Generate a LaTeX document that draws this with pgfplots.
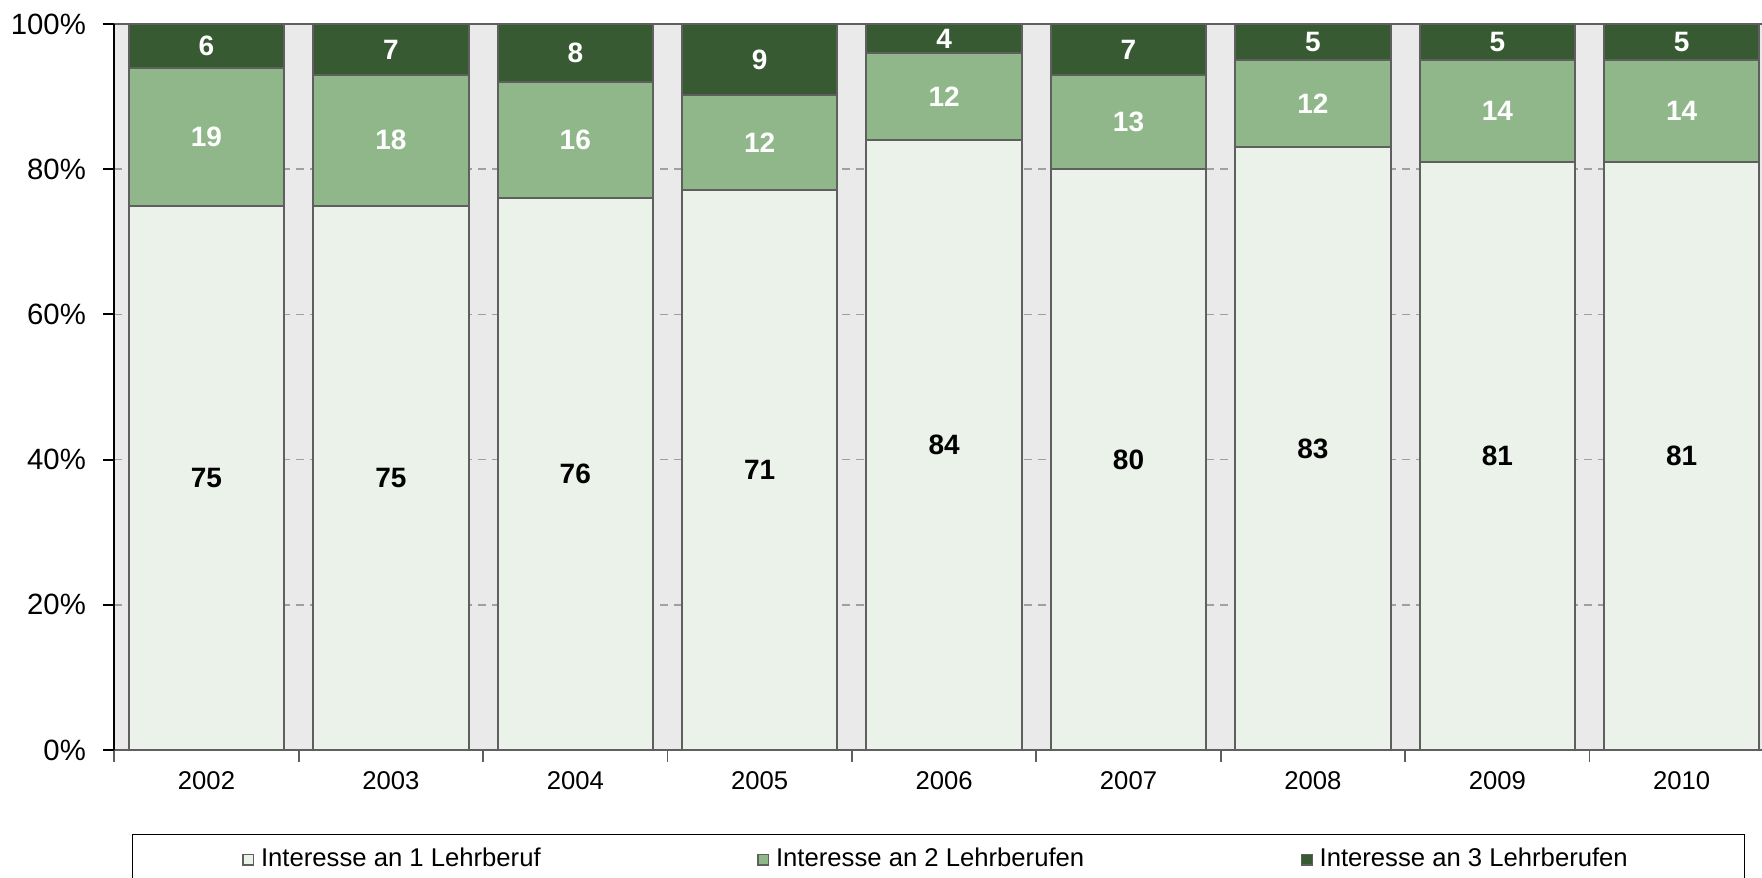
\documentclass[border=0pt]{standalone}
\usepackage{pgfplots}
\pgfplotsset{compat=1.18}
\usepackage{pgfplotstable}
\usepackage{fontspec}
\setmainfont{Liberation Sans}

\definecolor{cone}{HTML}{EAF2EA}
\definecolor{ctwo}{HTML}{8FB78A}
\definecolor{cthree}{HTML}{375A33}
\definecolor{cedge}{HTML}{5F5F5F}
\definecolor{cbg}{HTML}{EAEAEA}
\definecolor{cgrid}{HTML}{A0A0A0}

% h = normalised bar height (per cent of the year's total), l = printed value
\pgfplotstableread{
x h1 l1 h2 l2 h3 l3
0 75 75 19 19 6 6
1 75 75 18 18 7 7
2 76 76 16 16 8 8
3 77.17 71 13.04 12 9.79 9
4 84 84 12 12 4 4
5 80 80 13 13 7 7
6 83 83 12 12 5 5
7 81 81 14 14 5 5
8 81 81 14 14 5 5
}\datatable

\begin{document}
\begin{tikzpicture}
\begin{axis}[
  scale only axis,
  width=497.9pt, height=217.8pt,
  ybar stacked,
  bar width=0.843,
  xmin=-0.5, xmax=8.5,
  ymin=0, ymax=100,
  axis background/.style={fill=cbg},
  separate axis lines,
  x axis line style={draw=cedge, line width=0.6pt},
  y axis line style={draw=black, line width=0.6pt},
  tick align=outside,
  major tick length=3.5pt,
  xtick pos=left, ytick pos=left,
  xtick={-0.5,0.5,...,8.5},
  xticklabels={},
  xtick style={draw=cedge, line width=0.5pt},
  extra x ticks={0,1,...,8},
  extra x tick labels={2002,2003,2004,2005,2006,2007,2008,2009,2010},
  extra x tick style={major tick length=0pt, grid=none,
    tick label style={font=\fontsize{7.7}{9}\selectfont, yshift=-2.8pt}},
  ytick={0,20,...,100},
  yticklabels={0\%,20\%,40\%,60\%,80\%,100\%},
  yticklabel style={font=\fontsize{8.8}{10}\selectfont, xshift=-1.5pt},
  ytick style={draw=black, line width=0.6pt},
  ymajorgrids,
  grid style={cgrid, dash pattern=on 2.4pt off 1.8pt, line width=0.5pt},
  legend style={at={(0.4966,-0.1157)}, anchor=north, legend columns=3,
    draw=black, line width=0.4pt, fill=white,
    font=\fontsize{7.7}{9}\selectfont, inner xsep=33pt, inner ysep=2pt,
    /tikz/every even column/.append style={column sep=63pt}},
  legend image code/.code={\draw[#1, draw=cedge, line width=0.4pt] (0pt,-1.6pt) rectangle (3.2pt,1.6pt);},
  nodes near coords={\pgfplotspointmeta},
  point meta=explicit symbolic,
  every node near coord/.append style={anchor=center,
    font=\bfseries\fontsize{8.4}{10}\selectfont},
]
\addplot[fill=cone, draw=cedge, line width=0.6pt,
  every node near coord/.append style={text=black}]
  table[x=x, y=h1, meta=l1] {\datatable};
\addplot[fill=ctwo, draw=cedge, line width=0.6pt,
  every node near coord/.append style={text=white}]
  table[x=x, y=h2, meta=l2] {\datatable};
\addplot[fill=cthree, draw=cedge, line width=0.6pt,
  every node near coord/.append style={text=white}]
  table[x=x, y=h3, meta=l3] {\datatable};
\legend{Interesse an 1 Lehrberuf, Interesse an 2 Lehrberufen, Interesse an 3 Lehrberufen}
\coordinate (sw) at (rel axis cs:0,0);
\end{axis}
\pgfresetboundingbox
\path ([shift={(-34.29pt,-38.1pt)}]sw) rectangle ++(528.6pt,263.1pt);
\end{tikzpicture}
\end{document}
